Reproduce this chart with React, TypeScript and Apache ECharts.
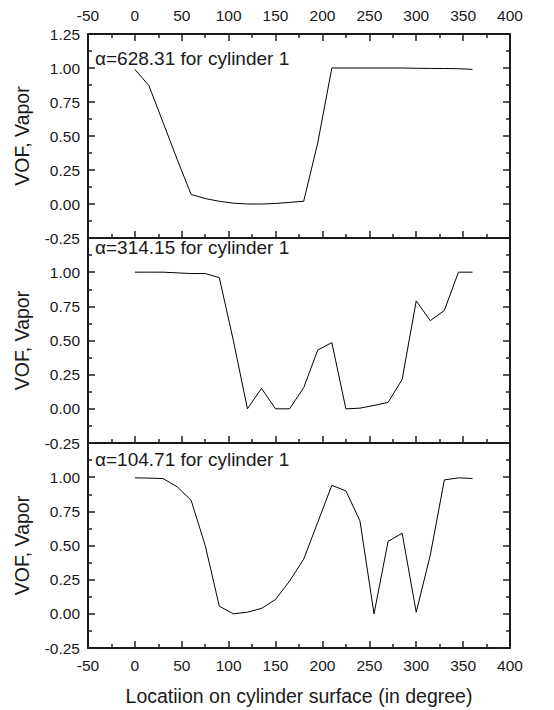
import React, { useEffect, useRef } from 'react';
import * as echarts from 'echarts';

const locationDeg = [0, 15, 30, 45, 60, 75, 90, 105, 120, 135, 150, 165, 180, 195, 210, 225, 240, 255, 270, 285, 300, 315, 330, 345, 360];
const vofAlpha628 = [0.99, 0.87, 0.60, 0.33, 0.07, 0.04, 0.02, 0.006, 0.0, 0.0, 0.004, 0.012, 0.02, 0.45, 1.0, 1.0, 1.0, 1.0, 1.0, 1.0, 0.998, 0.997, 0.996, 0.995, 0.99];
const vofAlpha314 = [1.0, 1.0, 1.0, 0.995, 0.99, 0.99, 0.96, 0.50, 0.0, 0.15, 0.0, 0.0, 0.155, 0.43, 0.485, 0.0, 0.005, 0.025, 0.047, 0.215, 0.79, 0.645, 0.72, 1.0, 1.0];
const vofAlpha104 = [0.995, 0.993, 0.99, 0.93, 0.83, 0.5, 0.056, 0.0, 0.012, 0.04, 0.105, 0.24, 0.40, 0.67, 0.94, 0.90, 0.68, 0.0, 0.53, 0.59, 0.012, 0.43, 0.98, 0.995, 0.99];
const panelLabels = ['α=628.31 for cylinder 1', 'α=314.15 for cylinder 1', 'α=104.71 for cylinder 1'];
const yAxisTitle = 'VOF, Vapor';
const xAxisTitle = 'Locatiion on cylinder surface (in degree)';

const FONT = '"Liberation Sans", Arial, Helvetica, sans-serif';
const INK = '#1a1a1a';
const TICK = '#1e1e28';
const MINOR = '#1e1e29';

const mkLine = () => ({ show: true, onZero: false, lineStyle: { color: INK, width: 2 } });
const mkTick = (show: boolean) => ({ show, inside: true, length: 7, lineStyle: { color: TICK, width: 1.5 } });
const mkMinor = (show: boolean) => ({ show, splitNumber: 2, length: 4, lineStyle: { color: MINOR, width: 1.5 } });

export default function App() {
  const ref = useRef<HTMLDivElement>(null);
  useEffect(() => {
    if (!ref.current) return;
    const chart = echarts.init(ref.current, undefined, { renderer: 'svg' });
    const seriesData = [vofAlpha628, vofAlpha314, vofAlpha104];
    const grids = [
      { left: 88, right: 44, top: 34, height: 204 },
      { left: 88, right: 44, top: 238, height: 205 },
      { left: 88, right: 44, top: 443, height: 205 },
    ];
    const xAxes: any[] = [];
    const yAxes: any[] = [];
    const series: any[] = [];
    const labelsYPos = [58, 247, 459];
    const graphics: any[] = [];
    grids.forEach((g, i) => {
      const bottomIdx = xAxes.length;
      xAxes.push({
        type: 'value', gridIndex: i, position: 'bottom', min: -50, max: 400, interval: 50,
        axisLine: mkLine(), axisTick: mkTick(true), minorTick: mkMinor(true), splitLine: { show: false },
        axisLabel: { show: i === 2, color: INK, fontFamily: FONT, fontSize: 15.5, margin: 9 },
        name: i === 2 ? xAxisTitle : '', nameLocation: 'middle', nameGap: 38,
        nameTextStyle: { color: INK, fontFamily: FONT, fontSize: 19.5 },
      });
      xAxes.push({
        type: 'value', gridIndex: i, position: 'top', min: -50, max: 400, interval: 50,
        axisLine: mkLine(), axisTick: mkTick(i === 0), minorTick: mkMinor(i === 0), splitLine: { show: false },
        axisLabel: { show: i === 0, color: INK, fontFamily: FONT, fontSize: 15.5, margin: 11 },
      });
      const leftIdx = yAxes.length;
      yAxes.push({
        type: 'value', gridIndex: i, position: 'left', min: -0.25, max: 1.25, interval: 0.25,
        axisLine: mkLine(), axisTick: mkTick(true), minorTick: mkMinor(true), splitLine: { show: false },
        axisLabel: {
          color: INK, fontFamily: FONT, fontSize: 15.5, margin: 8,
          formatter: (v: number) => (i > 0 && v > 1.2 ? '' : v.toFixed(2)),
        },
        name: yAxisTitle, nameLocation: 'middle', nameGap: 56,
        nameTextStyle: { color: INK, fontFamily: FONT, fontSize: 19.5 },
      });
      yAxes.push({
        type: 'value', gridIndex: i, position: 'right', min: -0.25, max: 1.25, interval: 0.25,
        axisLine: mkLine(), axisTick: mkTick(true), minorTick: mkMinor(true), splitLine: { show: false }, axisLabel: { show: false },
      });
      series.push({
        type: 'line', xAxisIndex: bottomIdx, yAxisIndex: leftIdx,
        data: locationDeg.map((x, k) => [x, seriesData[i][k]]),
        symbol: 'none', lineStyle: { color: '#000', width: 1 },
      });
      graphics.push({
        type: 'text', x: 95, y: labelsYPos[i],
        style: { text: panelLabels[i], fill: INK, fontFamily: FONT, fontSize: 19, verticalAlign: 'middle', align: 'left' },
      });
    });
    chart.setOption({
      animation: false,
      backgroundColor: '#fff',
      grid: grids,
      xAxis: xAxes,
      yAxis: yAxes,
      series,
      graphic: graphics,
    });
    return () => chart.dispose();
  }, []);
  return <div ref={ref} style={{ position: 'absolute', left: 0, top: 0, width: 554, height: 710 }} />;
}
